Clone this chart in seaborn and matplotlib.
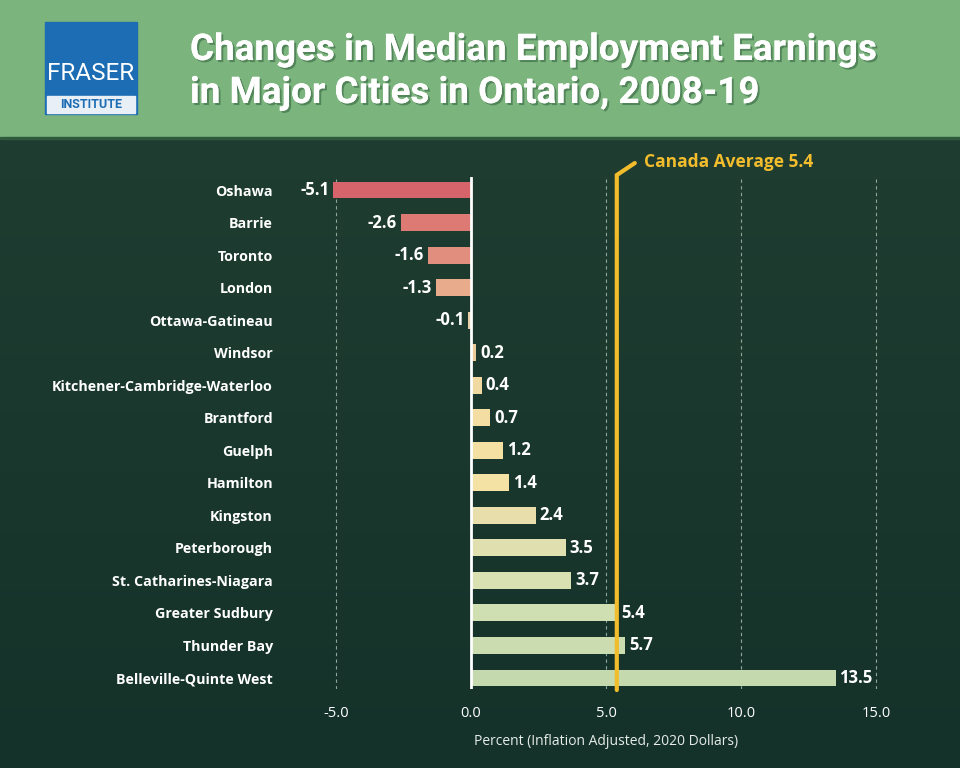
import numpy as np
import pandas as pd
import matplotlib
matplotlib.use("Agg")
import matplotlib.pyplot as plt
import matplotlib.patheffects as pe
from matplotlib.patches import Rectangle
from matplotlib.colors import LinearSegmentedColormap
import seaborn as sns

cities = ["Oshawa", "Barrie", "Toronto", "London", "Ottawa-Gatineau", "Windsor",
          "Kitchener-Cambridge-Waterloo", "Brantford", "Guelph", "Hamilton",
          "Kingston", "Peterborough", "St. Catharines-Niagara", "Greater Sudbury",
          "Thunder Bay", "Belleville-Quinte West"]
values = [-5.1, -2.6, -1.6, -1.3, -0.1, 0.2, 0.4, 0.7, 1.2, 1.4, 2.4, 3.5, 3.7, 5.4, 5.7, 13.5]
bar_colors = ["#d7646a", "#dc7a73", "#e18e7e", "#e8ab8b", "#ead0a8", "#ebcb9a",
              "#f1d9a2", "#f3dda2", "#f5e0a3", "#f4e1a4", "#e7deac", "#e0dfb0",
              "#d9e0b2", "#cfdfb1", "#cadcb0", "#c4d9ae"]
canada_avg = 5.4
x_ticks = [-5.0, 0.0, 5.0, 10.0, 15.0]
title = "Changes in Median Employment Earnings\nin Major Cities in Ontario, 2008-19"
x_label = "Percent (Inflation Adjusted, 2020 Dollars)"

df = pd.DataFrame({"city": cities, "value": values})

sns.set_theme(style="white")
plt.rcParams["font.family"] = ["Open Sans", "DejaVu Sans"]

fig = plt.figure(figsize=(9.6, 7.68), dpi=100)

# background gradient
bg = fig.add_axes([0, 0, 1, 1])
bg.set_axis_off()
grad = np.linspace(0, 1, 256).reshape(-1, 1)
cmap = LinearSegmentedColormap.from_list("bg", ["#223f33", "#15322a"])
bg.imshow(grad, aspect="auto", cmap=cmap, extent=[0, 1, 0, 1], transform=bg.transAxes)
bg.set_xlim(0, 1); bg.set_ylim(0, 1)
# header
bg.add_patch(Rectangle((0, 1 - 137 / 768), 1, 137 / 768, color="#7bb47d", transform=bg.transAxes, zorder=2))
bg.add_patch(Rectangle((0, 1 - 139 / 768), 1, 2 / 768, color="#2f5a3e", transform=bg.transAxes, zorder=2))
# logo
bg.add_patch(Rectangle((45 / 960, 1 - 114 / 768), 92 / 960, 92 / 768, color="#1c6db3", transform=bg.transAxes, zorder=3))
bg.add_patch(Rectangle((47 / 960, 1 - 113 / 768), 88 / 960, 17 / 768, color="#e9eff6", transform=bg.transAxes, zorder=4))
bg.text(91 / 960, 1 - 73 / 768, "FRASER", color="white", fontsize=17.5, ha="center", va="center",
        family=["Roboto", "DejaVu Sans"], transform=bg.transAxes, zorder=5)
bg.text(91 / 960, 1 - 104.5 / 768, "INSTITUTE", color="#1c6db3", fontsize=9, fontweight="bold", ha="center",
        va="center", family=["Roboto", "DejaVu Sans"], transform=bg.transAxes, zorder=5)
# title
bg.text(190 / 960, 1 - 71.5 / 768, title, color="white", fontsize=26.5, fontweight="bold", ha="left", va="center",
        linespacing=1.25, family=["Roboto", "DejaVu Sans"], transform=bg.transAxes, zorder=5,
        path_effects=[pe.withSimplePatchShadow(offset=(1.5, -1.5), shadow_rgbFace="#4a7a52", alpha=0.8), pe.Normal()])

# main axes
ax = fig.add_axes([309 / 960, 1 - 689.4 / 768, 594 / 960, (689.4 - 177) / 768])
ax.patch.set_alpha(0)
sns.barplot(data=df, y="city", x="value", hue="city", palette=bar_colors, legend=False,
            orient="h", width=0.52, ax=ax, zorder=3, saturation=1, linewidth=0)
ax.set_xlim(-6, 16)
ax.set_ylim(15.35, -0.4)
for s in ax.spines.values():
    s.set_visible(False)
for t in [-5, 5, 10, 15]:
    ax.axvline(t, color="#8fa79a", lw=0.8, ls=(0, (3, 3)), zorder=1)
ax.axvline(0, color="white", lw=2, zorder=4)

# canada average line with kink
px_x = 1 / 27.0
px_y = 1 / 32.53
ax.plot([canada_avg, canada_avg, canada_avg + 18 * px_x], [15.37, -0.46, -0.46 - 12 * px_y],
        color="#f2bd2c", lw=3, clip_on=False, zorder=5, solid_joinstyle="miter")
ax.text(canada_avg + 27 * px_x, -0.46 - 13 * px_y, f"Canada Average {canada_avg}", color="#f2bd2c",
        fontsize=12.5, fontweight="bold", ha="left", va="center", clip_on=False)

for i, v in enumerate(values):
    if v < 0:
        ax.text(v - 4 * px_x, i, f"{v}", color="white", fontsize=12, fontweight="bold", ha="right", va="center", zorder=6)
    else:
        ax.text(v + 4 * px_x, i, f"{v}", color="white", fontsize=12, fontweight="bold", ha="left", va="center", zorder=6)

ax.set_xticks(x_ticks)
ax.set_xticklabels([f"{t:.1f}" for t in x_ticks], color="white", fontsize=10.5)
ax.tick_params(axis="x", length=0, pad=12)
ax.tick_params(axis="y", length=0, pad=26)
ax.set_yticks(range(len(cities)))
ax.set_yticklabels(cities, color="white", fontsize=10.3, fontweight="bold")
ax.set_ylabel("")
ax.set_xlabel(x_label, color="#e6ece8", fontsize=10, labelpad=9)

fig.savefig("out.png", dpi=100)
